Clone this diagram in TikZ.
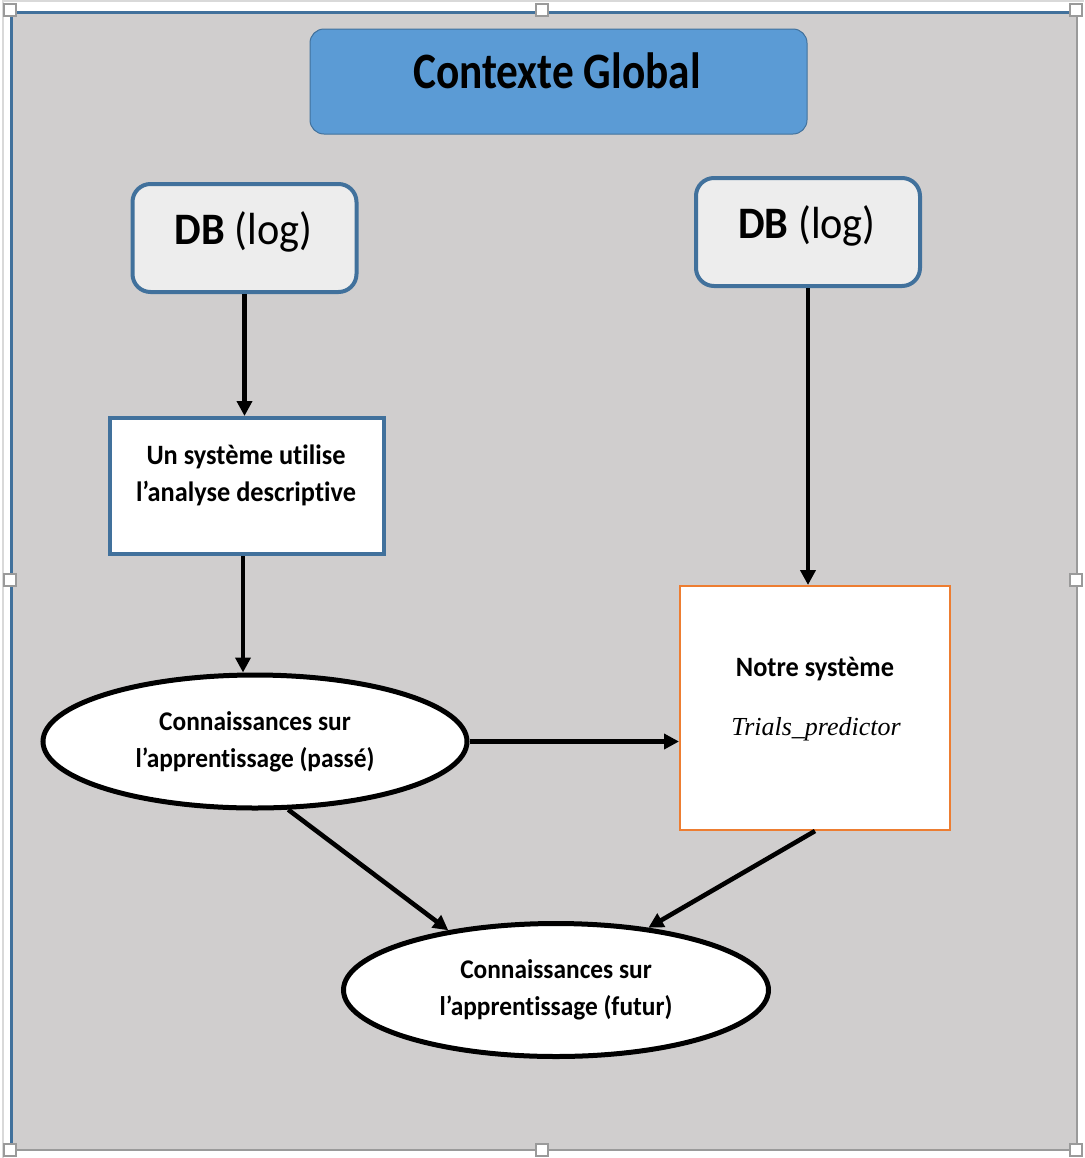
\documentclass[tikz,border=0pt]{standalone}
\usepackage{fontspec}
\setmainfont{Carlito}[FakeStretch=0.94, Ligatures=NoCommon]
\newfontfamily\headfont{Carlito}[FakeStretch=0.85, Ligatures=NoCommon]
\newfontfamily\predfont{Liberation Serif}
\usetikzlibrary{shapes.geometric,arrows.meta}

\definecolor{canvas}{HTML}{D0CECE}
\definecolor{frameblue}{HTML}{41719C}
\definecolor{titleblue}{HTML}{5B9BD5}
\definecolor{dbfill}{HTML}{EDEDED}
\definecolor{orangeedge}{HTML}{ED7D31}
\definecolor{handlegray}{HTML}{9A9A9A}

\tikzset{
  handle/.style={draw=handlegray, line width=0.9pt, fill=white, minimum size=6pt, inner sep=0pt},
  titlebox/.style={draw=frameblue, line width=0.5pt, fill=titleblue, rounded corners=7pt,
    minimum width=248.5pt, minimum height=52.5pt, inner sep=0pt},
  dbbox/.style={draw=frameblue, line width=2pt, fill=dbfill, rounded corners=9pt,
    minimum width=112pt, minimum height=54pt, inner sep=0pt},
  sysbox/.style={draw=frameblue, line width=2pt, fill=white,
    minimum width=137pt, minimum height=68pt, inner sep=0pt},
  oursbox/.style={draw=orangeedge, line width=1pt, fill=white,
    minimum width=135pt, minimum height=122pt, inner sep=0pt},
  knowledge/.style={ellipse, draw=black, line width=2.5pt, fill=white, inner sep=0pt,
    minimum height=66.5pt, align=center, font=\fontsize{13.5}{18.5}\selectfont\bfseries},
  boxtext/.style={align=center, inner sep=0pt, font=\fontsize{14}{18.5}\selectfont\bfseries},
  dbtext/.style={inner sep=0pt, font=\fontsize{22.5}{27}\selectfont},
  arr/.style={draw=black, line width=2.3pt, -{Triangle[length=7.5pt,width=7.5pt]}},
}

\begin{document}
\begin{tikzpicture}[x=0.5pt,y=-0.5pt]
\useasboundingbox (0,0) rectangle (1084,1158);

% outer selection frame
\draw[draw=black!15, line width=0.8pt] (3,1158) -- (3,1) -- (1084,1);

% canvas with its border
\fill[canvas] (11,11) rectangle (1077,1150);
\draw[frameblue, line width=1.5pt] (11.5,1150) -- (11.5,12.5) -- (1077,12.5);
\draw[handlegray, line width=1.2pt] (1077,12.5) -- (1077,1150) -- (11.5,1150);

% selection handles
\foreach \hx/\hy [count=\i] in {10/10, 542/10, 1076/10, 10/580, 1076/580, 10/1150, 542/1150, 1076/1150}
  \node[handle] (h\i) at (\hx,\hy) {};

% title
\node[titlebox] (title) at (558.5,81.5) {};
\node[font=\headfont\fontsize{25.5}{30}\selectfont\bfseries, anchor=base, inner sep=0pt] (titletext) at (557,88) {Contexte Global};

% data sources
\node[dbbox] (db1) at (244.5,238) {};
\node[dbtext, anchor=base] (db1text) at (243.5,244) {\textbf{DB} (log)};
\node[dbbox] (db2) at (808,232) {};
\node[dbtext, anchor=base] (db2text) at (807,238) {\textbf{DB} (log)};

% descriptive system
\node[sysbox] (sys) at (247,486) {};
\node[boxtext] (systext) at (246,475) {Un système utilise\\l’analyse descriptive};

% our system
\node[oursbox] (ours) at (815,708) {};
\node[boxtext, anchor=base] (ourstext) at (815,676) {Notre système};
\node[inner sep=0pt, anchor=base, font=\predfont\fontsize{13}{16}\selectfont\itshape] (predname) at (816,735) {Trials\_predictor};

% knowledge ellipses
\node[knowledge, minimum width=212pt] (past) at (255,741.5) {Connaissances sur\\l’apprentissage (passé)};
\node[knowledge, minimum width=212.5pt] (future) at (556,990) {Connaissances sur\\l’apprentissage (futur)};

% connectors
\draw[arr] (db1.south) -- (db1.south |- sys.north);
\draw[arr] ([xshift=-2pt]sys.south) -- ([xshift=-2pt]sys.south |- past.north);
\draw[arr] (db2.south) -- (db2.south |- ours.north);
\draw[arr] (past.east) -- (past.east -| ours.west);
\draw[arr] (past.-64) -- (future.151);
\draw[arr] (ours.south) -- (future.34);
\end{tikzpicture}
\end{document}
